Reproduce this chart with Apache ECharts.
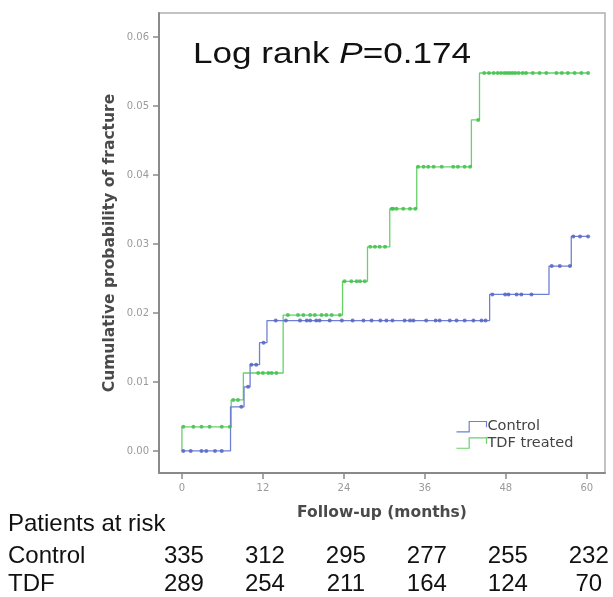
<!DOCTYPE html>
<html><head><meta charset="utf-8">
<script src="https://cdn.jsdelivr.net/npm/echarts@6/dist/echarts.min.js"></script>
<style>html,body{margin:0;padding:0;background:#fff}#c{width:613px;height:597px}</style>
</head><body><div id="c"></div>
<script>
// ---- data ----
const xTicks = [0, 12, 24, 36, 48, 60];
const yTicks = [0, 0.01, 0.02, 0.03, 0.04, 0.05, 0.06];

// Kaplan-Meier step changes (time in months, cumulative probability)
const controlTimes = [0, 7.2, 9.2, 10.1, 11.5, 12.6, 45.6, 54.4, 57.7, 60.2];
const controlCum   = [0, 0.0064, 0.0093, 0.0125, 0.0157, 0.0189, 0.0227, 0.0268, 0.0311, 0.0311];
const tdfTimes = [0, 0, 7.3, 9.1, 15.0, 23.8, 27.5, 30.8, 34.8, 42.9, 44.1, 60.2];
const tdfCum   = [0, 0.0035, 0.0074, 0.0113, 0.0197, 0.0246, 0.0296, 0.0351, 0.0412, 0.0480, 0.0548, 0.0548];

// censoring marks (months)
const controlCensored = [0.2, 1.3, 2.9, 3.6, 4.9, 5.9, 8.8, 9.8, 10.3, 11.0, 12.1,
  13.9, 15.4, 17.5, 18.5, 19.0, 19.9, 20.4, 21.9, 23.7, 25.3, 26.9, 28.1, 29.4, 30.3, 31.2,
  33.0, 33.8, 34.3, 36.2, 37.6, 38.2, 39.7, 40.7, 41.9, 43.2, 44.4, 45.0,
  46.0, 47.9, 48.4, 49.6, 50.3, 51.8, 54.8, 56.0, 57.5, 58.0, 59.0, 60.2];
const tdfCensored = [0.2, 1.7, 2.9, 4.1, 5.9, 7.1, 7.6, 8.3, 11.3, 12.0, 12.8, 13.3, 14.0,
  15.7, 17.2, 18.0, 19.0, 19.7, 20.7, 21.4, 22.2, 23.4, 24.1, 25.1, 25.9, 26.4, 27.1,
  27.9, 28.6, 29.3, 30.1, 31.1, 31.3, 31.8, 32.8, 33.8, 34.6,
  35.0, 35.8, 36.5, 37.3, 38.5, 40.2, 40.9, 41.9, 42.7, 43.9,
  44.8, 45.5, 46.2, 46.8, 47.3, 47.8, 48.2, 48.6, 49.0, 49.4, 49.9, 50.5, 51.0,
  52.0, 53.0, 54.0, 55.5, 56.3, 57.2, 58.2, 59.2, 60.2];

// patients at risk table
const riskMonths = [0, 12, 24, 36, 48, 60];
const controlRisk = [335, 312, 295, 277, 255, 232];
const tdfRisk = [289, 254, 211, 164, 124, 70];

const seriesNames = ['Control', 'TDF treated'];
const riskRowLabels = ['Control', 'TDF'];
const logRankP = '0.174';

// ---- build chart ----
const BLUE = '#6f80d2', BLUE_D = '#5566c4';
const GREEN = '#66d268', GREEN_D = '#42c24e';

function pairs(ts, vs) { return ts.map((t, i) => [t, vs[i]]); }
function levelAt(ts, vs, t) {
  let v = vs[0];
  for (let i = 0; i < ts.length; i++) { if (ts[i] <= t) v = vs[i]; }
  return v;
}
const controlCensorData = controlCensored.map(t => [t, levelAt(controlTimes, controlCum, t)]);
const tdfCensorData = tdfCensored.map(t => [t, levelAt(tdfTimes, tdfCum, t)]);

const chart = echarts.init(document.getElementById('c'), null, {renderer: 'canvas'});
const stepIcon = 'path://M0,10 L11,10 L11,1 L26,1 L26,6';

const option = {
  animation: false,
  backgroundColor: '#fff',
  grid: {left: 159, top: 13, width: 446, height: 460, show: true, borderColor: '#b0b0b0', borderWidth: 1.5, backgroundColor: 'transparent'},
  xAxis: {
    type: 'value', min: -3.4, max: 62.7,
    axisLine: {show: true, onZero: false, lineStyle: {color: '#8a8a8a', width: 2}},
    axisTick: {show: true, customValues: xTicks, length: 6, lineStyle: {color: '#8a8a8a', width: 1.5}},
    axisLabel: {customValues: xTicks, color: '#9a9a9a', fontSize: 10, margin: 10, fontFamily: 'DejaVu Sans'},
    splitLine: {show: false},
    name: 'Follow-up (months)', nameLocation: 'middle', nameGap: 32, nameMoveOverlap: false,
    nameTextStyle: {fontFamily: 'DejaVu Sans', fontWeight: 'bold', fontSize: 15.5, color: '#4a4a4a'}
  },
  yAxis: {
    type: 'value', min: -0.0032, max: 0.0635,
    axisLine: {show: true, onZero: false, lineStyle: {color: '#8a8a8a', width: 2}},
    axisTick: {show: true, customValues: yTicks, length: 6, lineStyle: {color: '#8a8a8a', width: 1.5}},
    axisLabel: {customValues: yTicks, color: '#9a9a9a', fontSize: 10, margin: 10, fontFamily: 'DejaVu Sans',
      formatter: v => v.toFixed(2)},
    splitLine: {show: false},
    name: 'Cumulative probability of fracture', nameLocation: 'middle', nameGap: 41, nameMoveOverlap: false,
    nameTextStyle: {fontFamily: 'DejaVu Sans', fontWeight: 'bold', fontSize: 15.5, color: '#4a4a4a'}
  },
  legend: {
    show: true, orient: 'vertical', left: 449, top: 414, itemGap: 1, itemWidth: 30, itemHeight: 12,
    icon: stepIcon,
    textStyle: {fontFamily: 'DejaVu Sans', fontSize: 14.5, color: '#444', padding: [0, 0, 0, -4]},
    data: [
      {name: seriesNames[0], itemStyle: {color: 'none', borderColor: BLUE, borderWidth: 1.2}},
      {name: seriesNames[1], itemStyle: {color: 'none', borderColor: GREEN, borderWidth: 1.2}}
    ]
  },
  series: [
    {name: seriesNames[0], type: 'line', step: 'end', data: pairs(controlTimes, controlCum),
      showSymbol: false, lineStyle: {color: BLUE, width: 1.3}, itemStyle: {color: BLUE}, z: 3},
    {name: seriesNames[1], type: 'line', step: 'end', data: pairs(tdfTimes, tdfCum),
      showSymbol: false, lineStyle: {color: GREEN, width: 1.3}, itemStyle: {color: GREEN}, z: 2},
    {name: 'Control censored', type: 'scatter', data: controlCensorData, symbol: 'circle', symbolSize: 4,
      itemStyle: {color: BLUE_D, opacity: 0.85}, z: 4},
    {name: 'TDF censored', type: 'scatter', data: tdfCensorData, symbol: 'circle', symbolSize: 4,
      itemStyle: {color: GREEN_D, opacity: 0.85}, z: 4}
  ]
};
chart.setOption(option);

// Title & patients-at-risk table, positioned via the x axis scale
const graphics = [];
graphics.push({
  type: 'text', left: 193, top: 40, z: 10,
  style: {
    text: '{a|Log rank }{b|P}{a|=' + logRankP + '}',
    rich: {
      a: {fontFamily: 'Liberation Sans', fontSize: 30, fill: '#111'},
      b: {fontFamily: 'Liberation Sans', fontSize: 30, fontStyle: 'italic', fill: '#111'}
    }
  },
  scaleX: 1.17
});
const labelFont = {fontFamily: 'Liberation Sans', fontSize: 24, fill: '#111'};
graphics.push({type: 'text', x: 8, y: 524, style: Object.assign({text: 'Patients at risk', verticalAlign: 'middle'}, labelFont)});
const rows = [[riskRowLabels[0], controlRisk, 556], [riskRowLabels[1], tdfRisk, 584]];
rows.forEach(([lab, vals, y]) => {
  graphics.push({type: 'text', x: 8, y: y, style: Object.assign({text: lab, verticalAlign: 'middle'}, labelFont)});
  vals.forEach((v, i) => {
    const px = chart.convertToPixel({xAxisIndex: 0}, riskMonths[i]);
    graphics.push({type: 'text', x: px + 2, y: y,
      style: Object.assign({text: String(v), align: 'center', verticalAlign: 'middle'}, labelFont)});
  });
});
chart.setOption({graphic: graphics});
</script>
</body></html>
